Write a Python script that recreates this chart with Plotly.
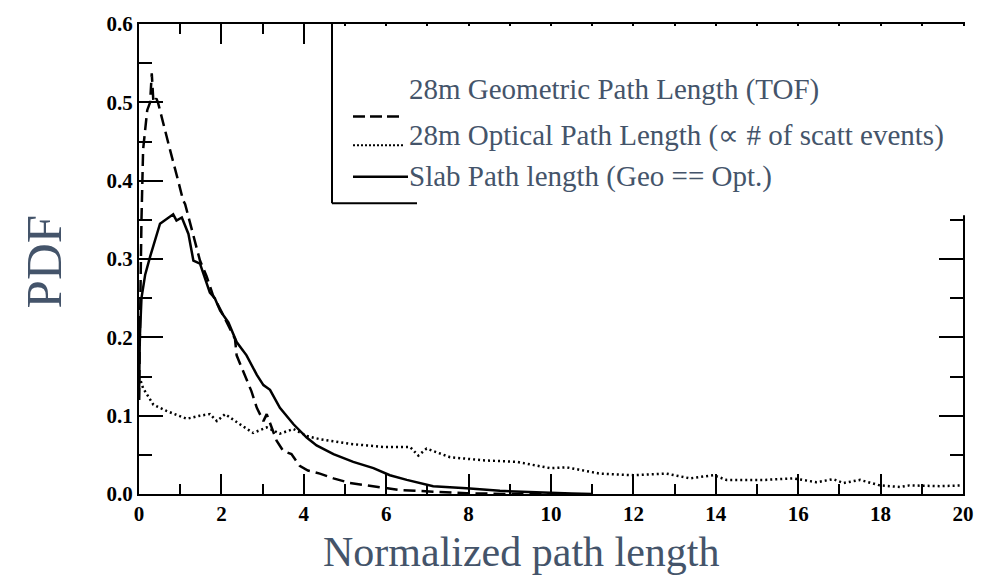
import plotly.graph_objects as go

# ---- data ----
geo_x = [0.0, 0.03, 0.06, 0.10, 0.20, 0.27, 0.31, 0.35, 0.42, 0.46, 0.58, 0.75, 0.95, 1.07,
         1.12, 1.24, 1.40, 1.48, 1.64, 1.80, 1.97, 2.13, 2.33, 2.37, 2.53, 2.73, 2.86, 3.02,
         3.10, 3.22, 3.34, 3.50, 3.70, 3.90, 4.10, 4.39, 4.72, 5.12, 5.50, 5.77, 6.33, 7.14,
         7.95, 9.0, 10.0]
geo_y = [0.12, 0.25, 0.35, 0.44, 0.49, 0.50, 0.537, 0.50, 0.505, 0.50, 0.474, 0.44, 0.40, 0.375,
         0.37, 0.345, 0.315, 0.298, 0.278, 0.253, 0.236, 0.219, 0.198, 0.177, 0.156, 0.131, 0.11, 0.093,
         0.102, 0.085, 0.068, 0.055, 0.051, 0.036, 0.030, 0.026, 0.020, 0.014, 0.011, 0.009, 0.005, 0.003,
         0.001, 0.0, 0.0]

opt_x = [0.0, 0.02, 0.10, 0.35, 0.67, 1.16, 1.48, 1.72, 1.89, 2.09, 2.45, 2.77, 3.10, 3.42,
         3.75, 4.07, 4.39, 4.88, 5.12, 5.53, 5.93, 6.33, 6.58, 6.78, 6.98, 7.55, 8.35, 9.17,
         9.98, 10.38, 11.03, 11.19, 12.0, 12.8, 13.37, 13.94, 14.26, 15.2, 15.88, 16.45, 16.85,
         17.1, 17.5, 17.98, 18.47, 18.7, 19.44, 19.97]
opt_y = [0.15, 0.148, 0.135, 0.114, 0.106, 0.096, 0.10, 0.102, 0.093, 0.102, 0.089, 0.078, 0.085, 0.077,
         0.083, 0.074, 0.070, 0.066, 0.064, 0.062, 0.060, 0.060, 0.060, 0.049, 0.058, 0.047, 0.043, 0.041,
         0.033, 0.034, 0.028, 0.026, 0.024, 0.026, 0.020, 0.024, 0.018, 0.018, 0.020, 0.015, 0.019,
         0.014, 0.018, 0.011, 0.009, 0.011, 0.010, 0.011]

slab_x = [0.0, 0.02, 0.06, 0.15, 0.27, 0.51, 0.83, 0.91, 1.04, 1.20, 1.32, 1.48, 1.72, 1.84,
          1.97, 2.17, 2.37, 2.61, 2.86, 3.02, 3.18, 3.42, 3.75, 4.07, 4.31, 4.72, 5.20, 5.69,
          6.09, 6.50, 7.14, 7.95, 8.76, 9.56, 10.5, 11.0]
slab_y = [0.12, 0.20, 0.25, 0.28, 0.303, 0.345, 0.357, 0.349, 0.353, 0.332, 0.298, 0.294, 0.257, 0.25,
          0.234, 0.219, 0.194, 0.177, 0.152, 0.139, 0.133, 0.11, 0.089, 0.072, 0.062, 0.051, 0.041, 0.033,
          0.024, 0.018, 0.010, 0.0075, 0.004, 0.002, 0.0005, 0.0]

x_ticks = [0, 2, 4, 6, 8, 10, 12, 14, 16, 18, 20]
y_ticks = [0.0, 0.1, 0.2, 0.3, 0.4, 0.5, 0.6]

legend_labels = ["28m Geometric Path Length (TOF)",
                 "28m Optical Path Length (\u221d # of scatt events)",
                 "Slab Path length (Geo == Opt.)"]

W, H = 994, 575
L, R, T, B = 139, 31, 17, 81
PW, PH = W - L - R, H - T - B


def px(xpix):
    return (xpix - L) / PW


def py(ypix):
    return (H - B - ypix) / PH


SERIF = "Liberation Serif, Times New Roman, serif"
TXT = "#44546A"

fig = go.Figure()
fig.add_trace(go.Scatter(x=geo_x, y=geo_y, mode="lines",
                         line=dict(color="black", width=2.5, dash="12px,6px"), showlegend=False))
fig.add_trace(go.Scatter(x=opt_x, y=opt_y, mode="lines",
                         line=dict(color="black", width=2.5, dash="2px,3px"), showlegend=False))
fig.add_trace(go.Scatter(x=slab_x, y=slab_y, mode="lines",
                         line=dict(color="black", width=2.5), showlegend=False))

axis_common = dict(showgrid=False, zeroline=False, showline=True, linecolor="black", linewidth=2,
                   mirror="ticks", ticks="inside", tickcolor="black", tickwidth=1.5,
                   tickfont=dict(family=SERIF, size=21, color="black"))

fig.update_xaxes(range=[0, 20], tickmode="array", tickvals=x_ticks,
                 ticktext=["<b>%d</b>" % v for v in x_ticks], ticklen=20,
                 minor=dict(dtick=1, tick0=0, ticks="inside", ticklen=10, tickcolor="black", tickwidth=1.5),
                 **axis_common)
fig.update_yaxes(range=[0, 0.6], tickmode="array", tickvals=y_ticks,
                 ticktext=["<b>%.1f</b>" % v for v in y_ticks], ticklen=24,
                 minor=dict(dtick=0.05, tick0=0, ticks="inside", ticklen=13, tickcolor="black", tickwidth=1.5),
                 **axis_common)

shapes = []
# white overlay hiding the top-right part of the frame (legend area)
shapes.append(dict(type="rect", xref="paper", yref="paper", layer="above",
                   x0=px(333), x1=px(990), y0=py(211), y1=py(19),
                   fillcolor="white", line=dict(width=0)))
# legend box edges
shapes.append(dict(type="line", xref="paper", yref="paper", layer="above",
                   x0=px(332), x1=px(332), y0=py(199), y1=py(17), line=dict(color="black", width=2)))
shapes.append(dict(type="line", xref="paper", yref="paper", layer="above",
                   x0=px(332), x1=px(417), y0=py(199), y1=py(199), line=dict(color="black", width=2)))
# legend samples
shapes.append(dict(type="line", xref="paper", yref="paper", layer="above",
                   x0=px(353), x1=px(400), y0=py(111), y1=py(111),
                   line=dict(color="black", width=2.5, dash="12px,5px")))
shapes.append(dict(type="line", xref="paper", yref="paper", layer="above",
                   x0=px(353), x1=px(405), y0=py(140), y1=py(140),
                   line=dict(color="black", width=2, dash="2px,2px")))
shapes.append(dict(type="line", xref="paper", yref="paper", layer="above",
                   x0=px(353), x1=px(408), y0=py(172), y1=py(172),
                   line=dict(color="black", width=2.5)))

annotations = []
for lab, yc in zip(legend_labels, [83, 130, 172]):
    annotations.append(dict(text=lab, xref="paper", yref="paper", x=px(407), y=py(yc),
                            xanchor="left", yanchor="middle", showarrow=False,
                            font=dict(family=SERIF, size=29, color=TXT)))
annotations.append(dict(text="PDF", xref="paper", yref="paper", x=px(44), y=py(258),
                        xanchor="center", yanchor="middle", textangle=-90, showarrow=False,
                        font=dict(family=SERIF, size=51, color=TXT)))
annotations.append(dict(text="Normalized path length", xref="paper", yref="paper",
                        x=px(521), y=py(553), xanchor="center", yanchor="middle", showarrow=False,
                        font=dict(family=SERIF, size=42, color=TXT)))

fig.update_layout(width=W, height=H, margin=dict(l=L, r=R, t=T, b=B),
                  plot_bgcolor="white", paper_bgcolor="white",
                  shapes=shapes, annotations=annotations, showlegend=False)

fig.write_html("out.html")
